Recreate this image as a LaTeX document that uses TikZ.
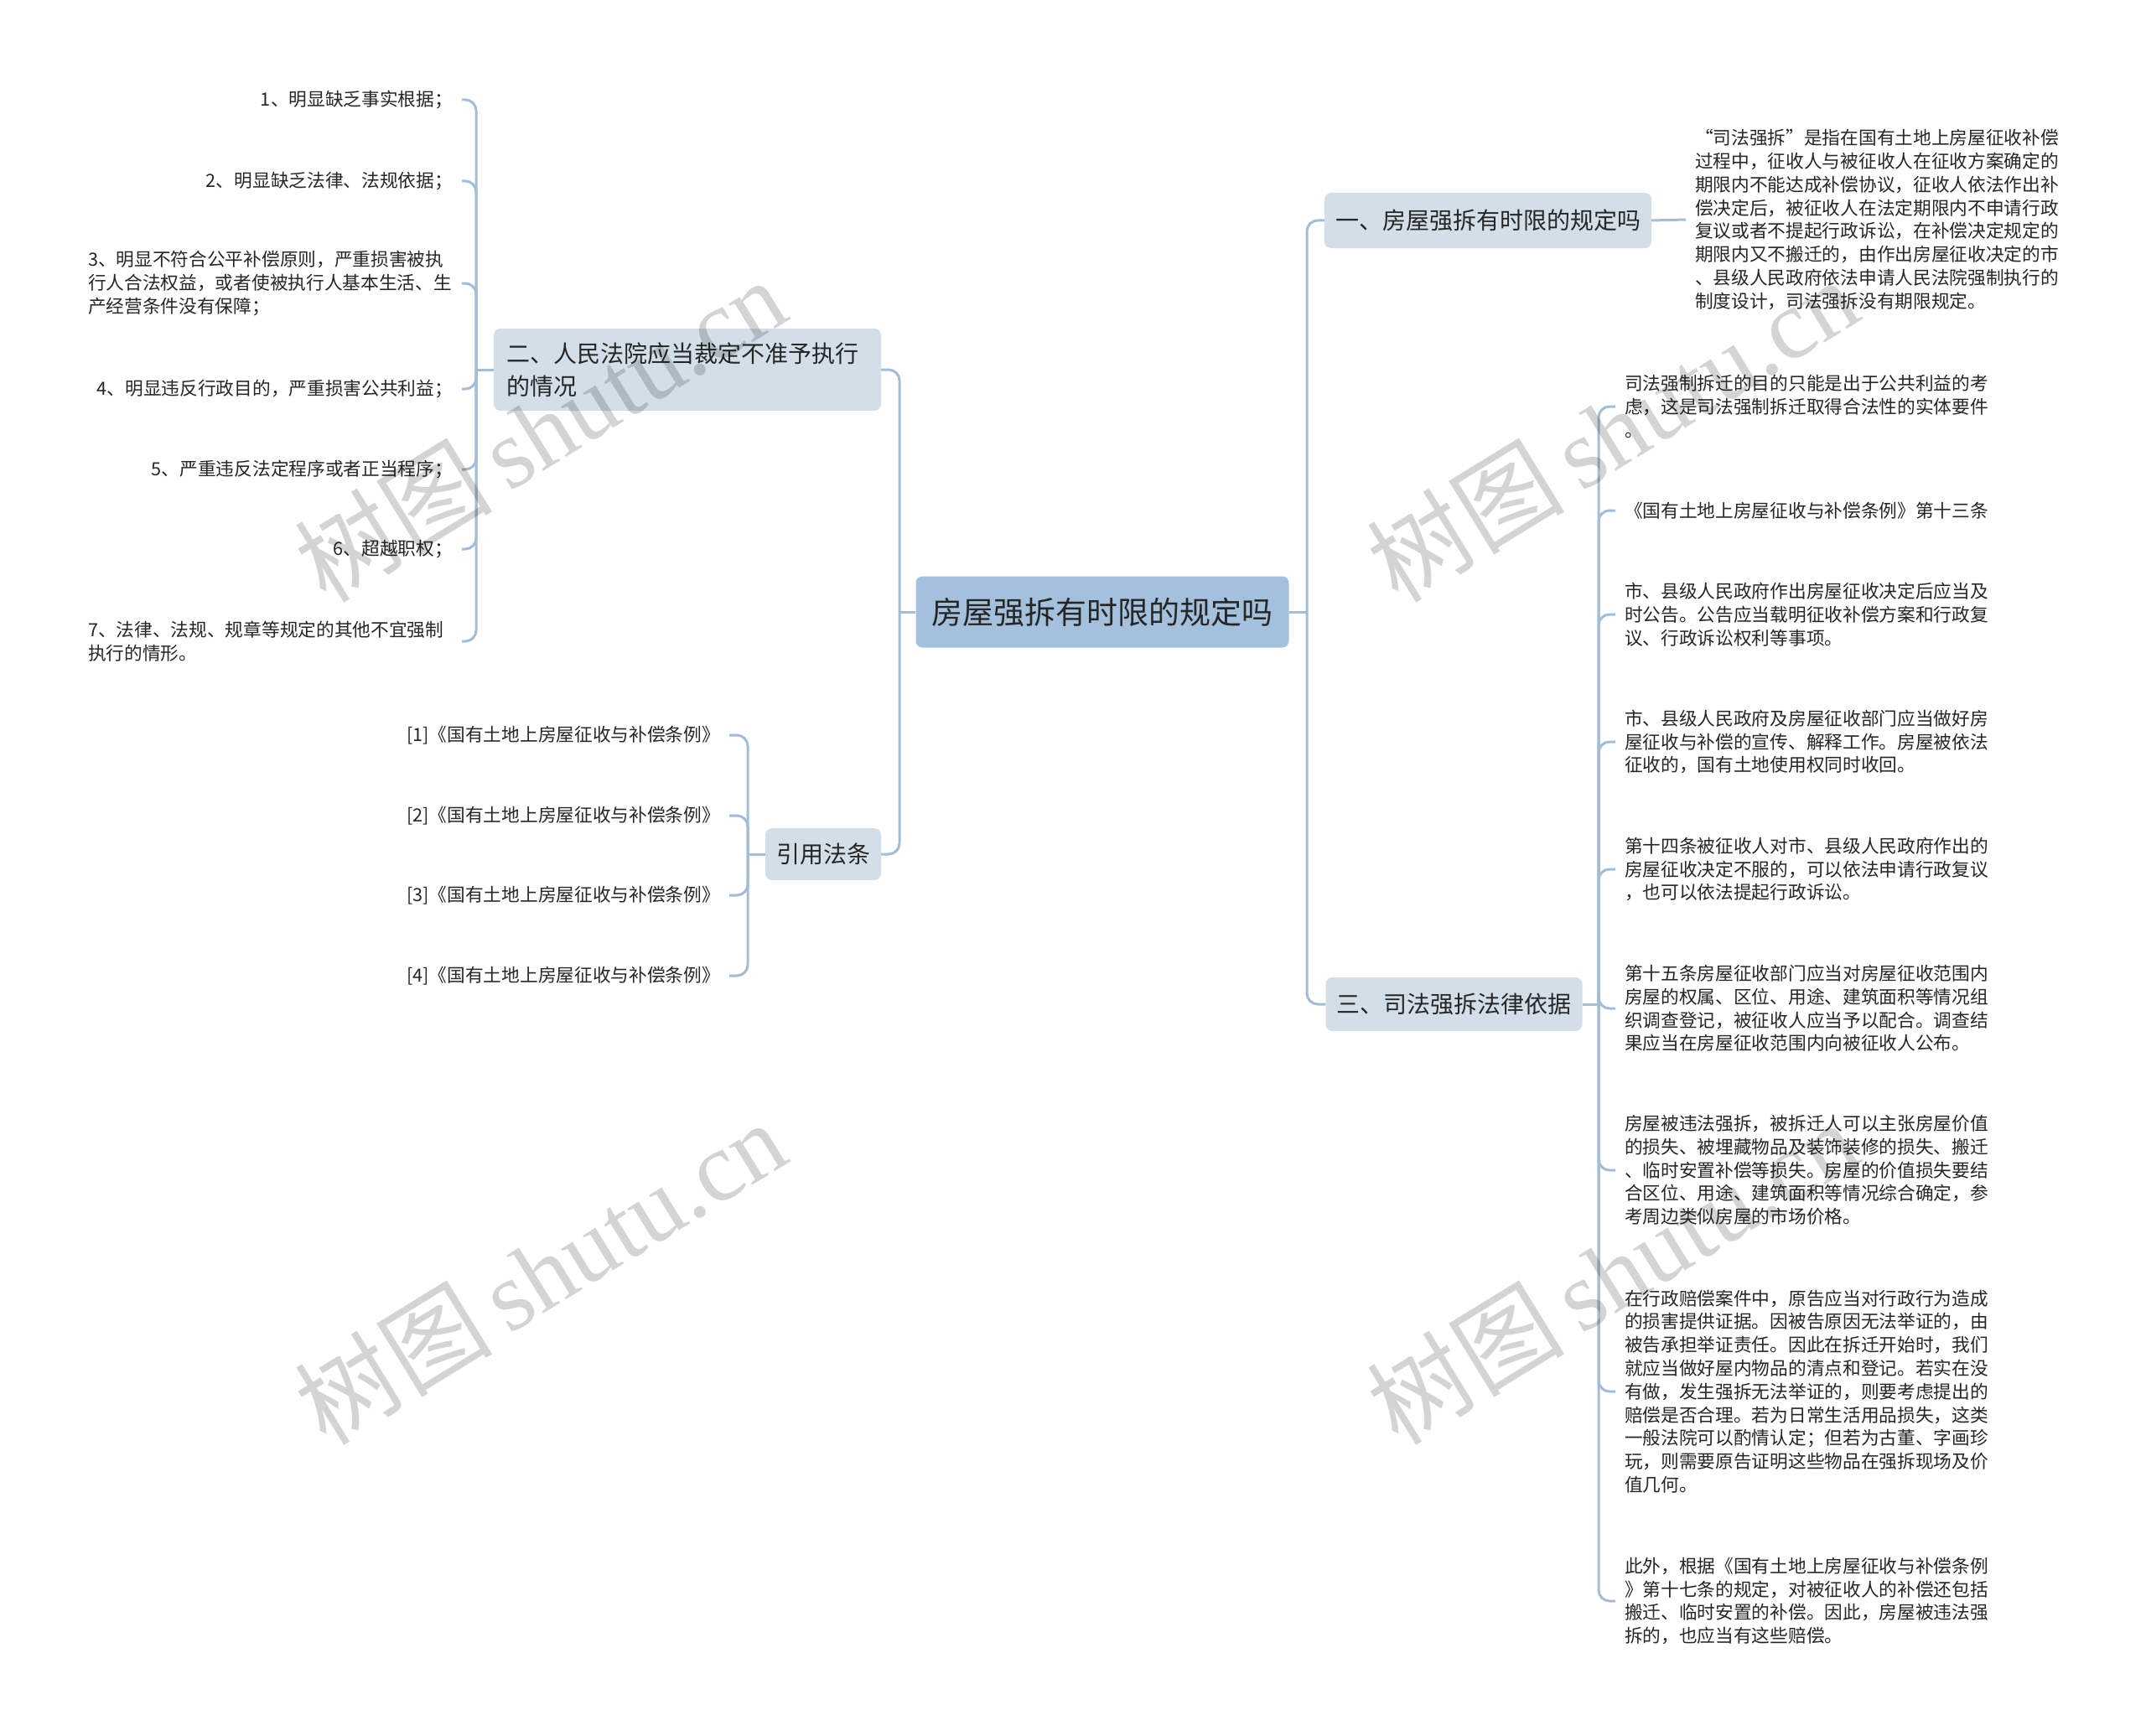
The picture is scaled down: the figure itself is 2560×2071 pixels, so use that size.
\documentclass[tikz,border=0pt]{standalone}
\usepackage{fontspec}
\setmainfont{Noto Sans CJK SC}
\newfontfamily\wmserif{Liberation Serif}
\definecolor{linecol}{HTML}{A3BDD6}
\definecolor{rootfill}{HTML}{A3C0DC}
\definecolor{boxfill}{HTML}{D3DFE8}
\definecolor{txt}{HTML}{262626}
\begin{document}
\begin{tikzpicture}[x=1pt,y=-1pt,
  conn/.style={draw=linecol,line width=3pt},
  curv/.style={draw=linecol,line width=3pt,rounded corners=13pt},
  rootbox/.style={fill=rootfill,rounded corners=8pt,inner xsep=19pt,inner ysep=0pt,minimum height=85pt,text=txt,font=\fontsize{37}{44}\selectfont},
  box/.style={fill=boxfill,rounded corners=8pt,inner xsep=13pt,inner ysep=0pt,text=txt,font=\fontsize{28}{39}\selectfont,align=left},
  leaf/.style={inner sep=0pt,outer xsep=11pt,text=txt,font=\fontsize{21.7}{27.8}\selectfont,align=left},
  wm/.style={rotate=31.6,text=black,text opacity=0.17,inner sep=0pt}
]
\useasboundingbox (0,0) rectangle (2560,2071);
\fill[white] (0,0) rectangle (2560,2071);

% main nodes
\node[rootbox] (root) at (1315,730) {房屋强拆有时限的规定吗};
\node[box,minimum height=66pt] (b1) at (1775,263) {一、房屋强拆有时限的规定吗};
\node[box,minimum height=64pt] (b3) at (1734.5,1198) {三、司法强拆法律依据};
\node[box,minimum height=98pt,text width=432pt,inner xsep=15pt] (b2) at (820,441) {二、人民法院应当裁定不准予执行\\的情况};
\node[box,minimum height=62pt] (b4) at (982,1019) {引用法条};

% junctions
\coordinate (jR) at (1559,730);
\coordinate (jL) at (1073,730);
\coordinate (j2) at (568,441);
\coordinate (j3) at (1907,1198);
\coordinate (j4) at (892,1019);

% branch 一 child
\node[leaf,anchor=west,text width=435pt] (t1) at (2011,262) {“司法强拆”是指在国有土地上房屋征收补偿\\过程中，征收人与被征收人在征收方案确定的\\期限内不能达成补偿协议，征收人依法作出补\\偿决定后，被征收人在法定期限内不申请行政\\复议或者不提起行政诉讼，在补偿决定规定的\\期限内又不搬迁的，由作出房屋征收决定的市\\、县级人民政府依法申请人民法院强制执行的\\制度设计，司法强拆没有期限规定。};

% branch 三 children
\node[leaf,anchor=west,text width=435pt] (r1) at (1927,485) {司法强制拆迁的目的只能是出于公共利益的考\\虑，这是司法强制拆迁取得合法性的实体要件\\。};
\node[leaf,anchor=west] (r2) at (1927,609) {《国有土地上房屋征收与补偿条例》第十三条};
\node[leaf,anchor=west,text width=435pt] (r3) at (1927,733) {市、县级人民政府作出房屋征收决定后应当及\\时公告。公告应当载明征收补偿方案和行政复\\议、行政诉讼权利等事项。};
\node[leaf,anchor=west,text width=435pt] (r4) at (1927,885) {市、县级人民政府及房屋征收部门应当做好房\\屋征收与补偿的宣传、解释工作。房屋被依法\\征收的，国有土地使用权同时收回。};
\node[leaf,anchor=west,text width=435pt] (r5) at (1927,1037) {第十四条被征收人对市、县级人民政府作出的\\房屋征收决定不服的，可以依法申请行政复议\\，也可以依法提起行政诉讼。};
\node[leaf,anchor=west,text width=435pt] (r6) at (1927,1203) {第十五条房屋征收部门应当对房屋征收范围内\\房屋的权属、区位、用途、建筑面积等情况组\\织调查登记，被征收人应当予以配合。调查结\\果应当在房屋征收范围内向被征收人公布。};
\node[leaf,anchor=west,text width=435pt] (r7) at (1927,1396) {房屋被违法强拆，被拆迁人可以主张房屋价值\\的损失、被埋藏物品及装饰装修的损失、搬迁\\、临时安置补偿等损失。房屋的价值损失要结\\合区位、用途、建筑面积等情况综合确定，参\\考周边类似房屋的市场价格。};
\node[leaf,anchor=west,text width=435pt] (r8) at (1927,1660) {在行政赔偿案件中，原告应当对行政行为造成\\的损害提供证据。因被告原因无法举证的，由\\被告承担举证责任。因此在拆迁开始时，我们\\就应当做好屋内物品的清点和登记。若实在没\\有做，发生强拆无法举证的，则要考虑提出的\\赔偿是否合理。若为日常生活用品损失，这类\\一般法院可以酌情认定；但若为古董、字画珍\\玩，则需要原告证明这些物品在强拆现场及价\\值几何。};
\node[leaf,anchor=west,text width=435pt] (r9) at (1927,1910) {此外，根据《国有土地上房屋征收与补偿条例\\》第十七条的规定，对被征收人的补偿还包括\\搬迁、临时安置的补偿。因此，房屋被违法强\\拆的，也应当有这些赔偿。};

% branch 二 children
\node[leaf,anchor=east] (l1) at (551,119) {1、明显缺乏事实根据；};
\node[leaf,anchor=east] (l2) at (551,216) {2、明显缺乏法律、法规依据；};
\node[leaf,anchor=east,text width=435pt] (l3) at (551,338) {3、明显不符合公平补偿原则，严重损害被执\\行人合法权益，或者使被执行人基本生活、生\\产经营条件没有保障；};
\node[leaf,anchor=east] (l4) at (551,464) {4、明显违反行政目的，严重损害公共利益；};
\node[leaf,anchor=east] (l5) at (551,560) {5、严重违反法定程序或者正当程序；};
\node[leaf,anchor=east] (l6) at (551,655) {6、超越职权；};
\node[leaf,anchor=east,text width=435pt] (l7) at (551,765) {7、法律、法规、规章等规定的其他不宜强制\\执行的情形。};

% 引用法条 children
\node[leaf,anchor=east] (c1) at (870,877) {[1]《国有土地上房屋征收与补偿条例》};
\node[leaf,anchor=east] (c2) at (870,973) {[2]《国有土地上房屋征收与补偿条例》};
\node[leaf,anchor=east] (c3) at (870,1068) {[3]《国有土地上房屋征收与补偿条例》};
\node[leaf,anchor=east] (c4) at (870,1164) {[4]《国有土地上房屋征收与补偿条例》};

% connectors
\draw[conn] (root.east) -- (jR);
\draw[curv] (jR) |- (b1.west);
\draw[curv] (jR) |- (b3.west);
\draw[conn] (root.west) -- (jL);
\draw[curv] (jL) |- (b2.east);
\draw[curv] (jL) |- (b4.east);

\draw[conn] (b1.east) -- (t1.west);

\draw[conn] (b3.east) -- (j3);
\foreach \n in {r1,r2,r3,r4,r5,r6,r7,r8,r9} \draw[curv] (j3) |- (\n.west);

\draw[conn] (b2.west) -- (j2);
\foreach \n in {l1,l2,l3,l4,l5,l6,l7} \draw[curv] (j2) |- (\n.east);

\draw[conn] (b4.west) -- (j4);
\foreach \n in {c1,c2,c3,c4} \draw[curv] (j4) |- (\n.east);

% watermarks
\node[wm] (w1) at (644,512) {\fontsize{118}{118}\selectfont 树图\,{\wmserif shutu.cn}};
\node[wm] (w2) at (1923,512) {\fontsize{118}{118}\selectfont 树图\,{\wmserif shutu.cn}};
\node[wm] (w3) at (644,1517) {\fontsize{118}{118}\selectfont 树图\,{\wmserif shutu.cn}};
\node[wm] (w4) at (1923,1517) {\fontsize{118}{118}\selectfont 树图\,{\wmserif shutu.cn}};
\end{tikzpicture}
\end{document}
